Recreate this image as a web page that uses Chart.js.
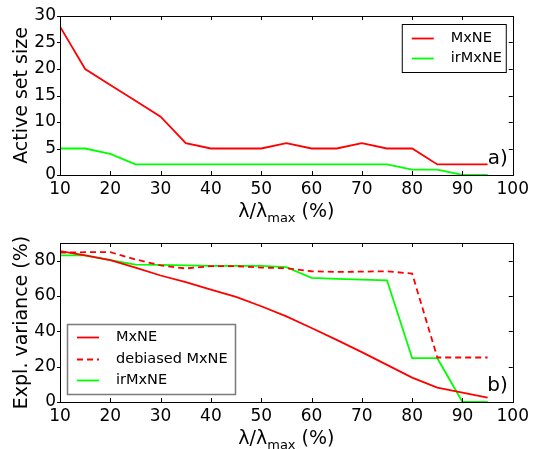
<!DOCTYPE html>
<html>
<head>
<meta charset="utf-8">
<script src="https://cdn.jsdelivr.net/npm/chart.js@4.4.1/dist/chart.umd.min.js"></script>
<style>
  html, body { margin: 0; padding: 0; background: #fff; }
  #wrap { position: relative; width: 533px; height: 449px; }
  canvas { position: absolute; left: 0; }
  #chart-a { top: 0; }
  #chart-b { top: 225px; }
</style>
</head>
<body>
<div id="wrap">
  <canvas id="chart-a" width="533" height="225"></canvas>
  <canvas id="chart-b" width="533" height="224"></canvas>
</div>
<script>
// ==================== DATA ====================
const lambdaPct = [10, 15, 20, 25, 30, 35, 40, 45, 50, 55, 60, 65, 70, 75, 80, 85, 90, 95];

// a) active set size
const activeMxNE   = [28, 20, 17, 14, 11, 6, 5, 5, 5, 6, 5, 5, 6, 5, 5, 2, 2, 2];
const activeIrMxNE = [5, 5, 4, 2, 2, 2, 2, 2, 2, 2, 2, 2, 2, 2, 1, 1, 0, 0];

// b) explained variance (%)
const varMxNE     = [85.4, 83, 80.3, 76, 71.6, 67.8, 63.6, 59.5, 54.2, 48.5, 41.9, 35.2, 28.2, 21, 13.8, 8.1, 5.3, 2.5];
const varDebiased = [84.5, 84.8, 84.8, 80.7, 77.3, 75.6, 76.9, 76.9, 76.1, 75.7, 74, 73.6, 73.8, 74, 72.7, 25.2, 25.2, 25.2];
const varIrMxNE   = [83, 83, 80.3, 77.8, 77.6, 77.3, 77, 77, 77, 76.3, 70.3, 69.7, 69.3, 68.9, 24.8, 24.8, 0, 0];

const xTicks = [10, 20, 30, 40, 50, 60, 70, 80, 90, 100];
const yTicksA = [0, 5, 10, 15, 20, 25, 30];
const yTicksB = [0, 20, 40, 60, 80];

const FONT = "'DejaVu Sans', 'Liberation Sans', sans-serif";
const RED = '#ff0000';
const GREEN = '#00ff00';

function toPoints(values) {
  return values.map((v, i) => ({ x: lambdaPct[i], y: v }));
}

// ==================== PLUGINS ====================
// frame + inward tick marks (matplotlib classic look)
const framePlugin = {
  id: 'frame',
  afterDatasetsDraw(chart) {
    const { ctx, chartArea: a, scales } = chart;
    ctx.save();
    ctx.strokeStyle = '#000';
    ctx.lineWidth = 1;
    ctx.beginPath();
    scales.x.ticks.forEach(t => {
      const px = Math.round(scales.x.getPixelForValue(t.value)) + 0.5;
      ctx.moveTo(px, a.bottom); ctx.lineTo(px, a.bottom - 4);
      ctx.moveTo(px, a.top); ctx.lineTo(px, a.top + 4);
    });
    scales.y.ticks.forEach(t => {
      const py = Math.round(scales.y.getPixelForValue(t.value)) + 0.5;
      ctx.moveTo(a.left, py); ctx.lineTo(a.left - 3, py);
      ctx.moveTo(a.right, py); ctx.lineTo(a.right - 4, py);
    });
    ctx.stroke();
    ctx.strokeRect(Math.round(a.left) + 0.5, Math.round(a.top) + 0.5,
      Math.round(a.right - a.left), Math.round(a.bottom - a.top));
    ctx.restore();
  }
};

// x axis title with subscript, legend box and panel letter
const decorPlugin = {
  id: 'decor',
  afterDraw(chart, args, opts) {
    const { ctx, chartArea: a } = chart;
    ctx.save();
    ctx.fillStyle = '#000';

    // λ/λmax (%)
    const main = '19px ' + FONT, sub = '13px ' + FONT;
    ctx.font = main;
    const w1 = ctx.measureText('λ/λ').width;
    const w3 = ctx.measureText(' (%)').width;
    ctx.font = sub;
    const w2 = ctx.measureText('max').width;
    let x = (a.left + a.right) / 2 - (w1 + w2 + w3) / 2;
    const base = a.bottom + 42;
    ctx.textBaseline = 'alphabetic';
    ctx.textAlign = 'left';
    ctx.font = main; ctx.fillText('λ/λ', x, base); x += w1;
    ctx.font = sub; ctx.fillText('max', x, base + 5); x += w2;
    ctx.font = main; ctx.fillText(' (%)', x, base);

    // panel letter
    ctx.font = '20px ' + FONT;
    ctx.textAlign = 'right';
    ctx.fillText(opts.letter, a.right - 5, a.bottom - 11);

    // legend
    const lg = opts.legend;
    const bx = lg.alignRight ? a.right - lg.offX - lg.w : a.left + lg.offX;
    const by = lg.alignBottom ? a.bottom - lg.offY - lg.h : a.top + lg.offY;
    ctx.fillStyle = '#fff';
    ctx.fillRect(bx, by, lg.w, lg.h);
    ctx.strokeStyle = lg.border;
    ctx.lineWidth = lg.borderWidth;
    ctx.strokeRect(bx + 0.5, by + 0.5, lg.w, lg.h);
    ctx.font = '14.5px ' + FONT;
    ctx.textAlign = 'left';
    ctx.textBaseline = 'middle';
    chart.data.datasets.forEach((ds, i) => {
      const ry = Math.round(by + lg.first + i * lg.step) + 0.5;
      ctx.strokeStyle = ds.borderColor;
      ctx.lineWidth = ds.borderWidth;
      ctx.setLineDash(ds.borderDash || []);
      ctx.beginPath();
      ctx.moveTo(bx + 10, ry); ctx.lineTo(bx + 32, ry);
      ctx.stroke();
      ctx.setLineDash([]);
      ctx.fillStyle = '#000';
      ctx.fillText(ds.label, bx + 49, ry);
    });
    ctx.restore();
  }
};

// ==================== CHARTS ====================
function baseOptions(yTitle, yMax, yStep, yTickList, xHeight, padTop) {
  return {
    responsive: false,
    animation: false,
    devicePixelRatio: 1,
    layout: { padding: { top: padTop, right: 20, left: 0, bottom: 0 } },
    plugins: { legend: { display: false }, tooltip: { enabled: false } },
    elements: { point: { radius: 0 }, line: { tension: 0 } },
    scales: {
      x: {
        type: 'linear', min: 10, max: 100,
        grid: { display: false, drawTicks: false },
        border: { display: false },
        afterBuildTicks: s => { s.ticks = xTicks.map(v => ({ value: v })); },
        afterFit: s => { s.height = xHeight; },
        ticks: { stepSize: 10, padding: 4, color: '#000', font: { family: FONT, size: 17 }, maxRotation: 0, autoSkip: false }
      },
      y: {
        type: 'linear', min: 0, max: yMax,
        grid: { display: false, drawTicks: false },
        border: { display: false },
        afterBuildTicks: s => { s.ticks = yTickList.map(v => ({ value: v })); },
        afterFit: s => { s.width = 60; },
        title: { display: true, text: yTitle, color: '#000', font: { family: FONT, size: 19 }, padding: { top: 11, bottom: 0 } },
        ticks: { stepSize: yStep, padding: 4, color: '#000', font: { family: FONT, size: 17 } }
      }
    }
  };
}

const optA = baseOptions('Active set size', 30, 5, yTicksA, 50, 16);
optA.plugins.decor = {
  letter: 'a)',
  legend: { alignRight: true, alignBottom: false, offX: 7, offY: 8, w: 104, h: 48, first: 14, step: 20, border: '#000', borderWidth: 1 }
};

new Chart(document.getElementById('chart-a'), {
  type: 'line',
  data: {
    datasets: [
      { label: 'MxNE', data: toPoints(activeMxNE), borderColor: RED, borderWidth: 1.8, fill: false },
      { label: 'irMxNE', data: toPoints(activeIrMxNE), borderColor: GREEN, borderWidth: 1.8, fill: false }
    ]
  },
  options: optA,
  plugins: [framePlugin, decorPlugin]
});

const optB = baseOptions('Expl. variance (%)', 90, 20, yTicksB, 47, 18);
optB.plugins.decor = {
  letter: 'b)',
  legend: { alignRight: false, alignBottom: true, offX: 7, offY: 8, w: 168, h: 70, first: 13, step: 21.7, border: '#7a7a7a', borderWidth: 1.5 }
};

new Chart(document.getElementById('chart-b'), {
  type: 'line',
  data: {
    datasets: [
      { label: 'MxNE', data: toPoints(varMxNE), borderColor: RED, borderWidth: 1.8, fill: false },
      { label: 'debiased MxNE', data: toPoints(varDebiased), borderColor: RED, borderWidth: 1.8, borderDash: [6, 4], fill: false },
      { label: 'irMxNE', data: toPoints(varIrMxNE), borderColor: GREEN, borderWidth: 1.8, fill: false }
    ]
  },
  options: optB,
  plugins: [framePlugin, decorPlugin]
});
</script>
</body>
</html>
